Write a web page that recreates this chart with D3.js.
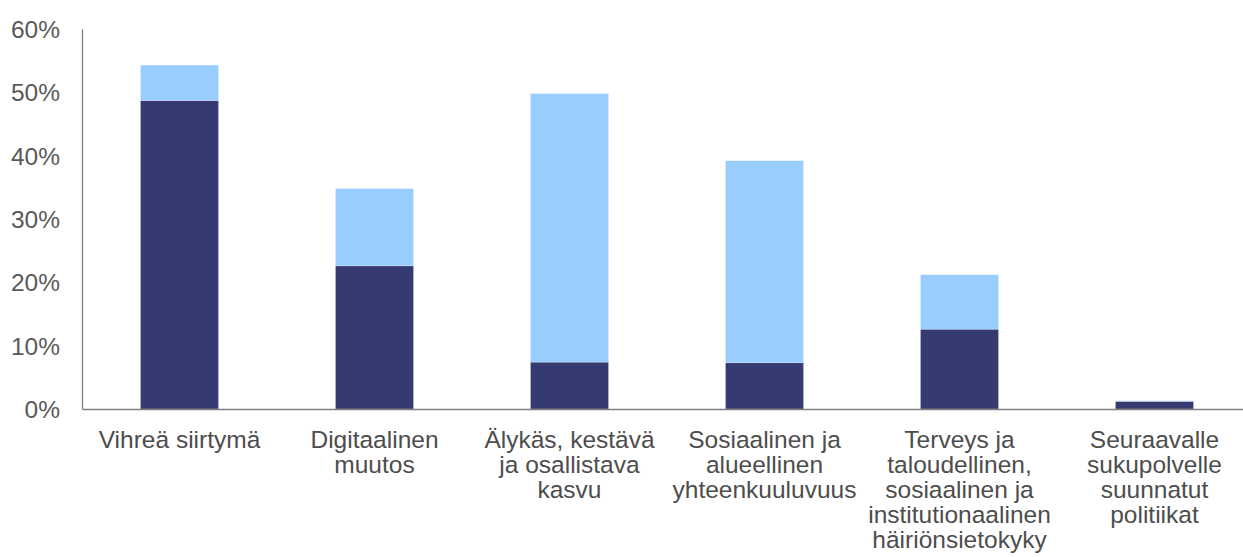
<!DOCTYPE html>
<html lang="fi">
<head>
  <meta charset="utf-8">
  <title>Pilarit</title>
  <script src="https://d3js.org/d3.v7.min.js"></script>
  <style>
    body { margin: 0; background: #fff; }
    svg { display: block; font-family: "Liberation Sans", Arial, sans-serif; }
    .tick-label { font-size: 24.5px; fill: #595959; }
    .cat-label { font-size: 24.5px; fill: #4d4d4d; }
  </style>
</head>
<body>
<script>
// category labels (split into lines as in the original)
var categories = [
  ["Vihreä siirtymä"],
  ["Digitaalinen", "muutos"],
  ["Älykäs, kestävä", "ja osallistava", "kasvu"],
  ["Sosiaalinen ja", "alueellinen", "yhteenkuuluvuus"],
  ["Terveys ja", "taloudellinen,", "sosiaalinen ja", "institutionaalinen", "häiriönsietokyky"],
  ["Seuraavalle", "sukupolvelle", "suunnatut", "politiikat"]
];
// dark (lower) segment, % share
var lowerValues = [48.7, 22.6, 7.4, 7.3, 12.6, 1.2];
// light (upper) segment, % share
var upperValues = [5.6, 12.2, 42.4, 31.9, 8.6, 0.1];
var yTicks = [0, 10, 20, 30, 40, 50, 60];

var width = 1243, height = 557;
var marginLeft = 82, plotTop = 29, plotBottom = 409;

var svg = d3.select("body").append("svg")
    .attr("width", width)
    .attr("height", height);

var x = d3.scaleBand()
    .domain(d3.range(categories.length))
    .range([marginLeft, marginLeft + 195 * categories.length])
    .paddingInner(0.6)
    .paddingOuter(0.3);

var y = d3.scaleLinear()
    .domain([0, 60])
    .range([plotBottom, plotTop]);

var rows = categories.map(function(c, i) {
  return { i: i, lower: lowerValues[i], upper: upperValues[i] };
});

var series = d3.stack().keys(["lower", "upper"])(rows);
var colors = { lower: "#353b70", upper: "#99ccff" };

svg.append("g")
  .selectAll("g")
  .data(series)
  .join("g")
    .attr("fill", d => colors[d.key])
  .selectAll("rect")
  .data(d => d)
  .join("rect")
    .attr("x", d => x(d.data.i))
    .attr("width", x.bandwidth())
    .attr("y", d => y(d[1]))
    .attr("height", d => y(d[0]) - y(d[1]))
    .attr("stroke", "#ffffff")
    .attr("stroke-opacity", 0.35)
    .attr("stroke-width", 0.6);

// y axis: line + labels only
var yAxis = svg.append("g")
    .attr("transform", "translate(" + marginLeft + ",0)")
    .call(d3.axisLeft(y).tickValues(yTicks).tickSize(0).tickFormat(d => d + "%"));
yAxis.attr("font-family", null).attr("font-size", null);
yAxis.select(".domain").attr("stroke", "#7f7f7f").attr("stroke-width", 1.3);
yAxis.selectAll(".tick text")
    .attr("class", "tick-label")
    .attr("x", -22)
    .attr("dy", "0.35em")
    .attr("fill", null);

// x axis baseline
var xAxis = svg.append("g")
    .attr("transform", "translate(0," + plotBottom + ")")
    .call(d3.axisBottom(x).tickSize(0).tickFormat(""));
xAxis.select(".domain").attr("stroke", "#7f7f7f").attr("stroke-width", 1.5);

// category labels
var lab = svg.append("g")
  .selectAll("text")
  .data(categories)
  .join("text")
    .attr("class", "cat-label")
    .attr("text-anchor", "middle")
    .attr("x", (d, i) => x(i) + x.bandwidth() / 2)
    .attr("y", plotBottom + 39);

lab.selectAll("tspan")
  .data(d => d)
  .join("tspan")
    .attr("x", function() { return d3.select(this.parentNode).attr("x"); })
    .attr("dy", (d, j) => j === 0 ? 0 : 25)
    .text(d => d);
</script>
</body>
</html>
